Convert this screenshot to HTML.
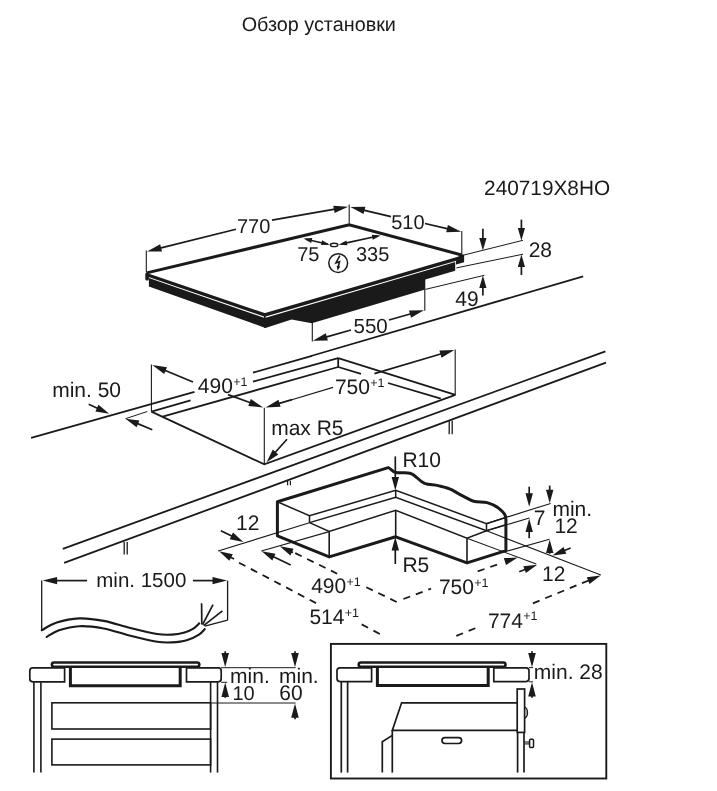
<!DOCTYPE html>
<html><head><meta charset="utf-8"><title>Обзор установки</title>
<style>
html,body{margin:0;padding:0;background:#fff;}
body{width:717px;height:791px;overflow:hidden;font-family:"Liberation Sans",sans-serif;}
svg{display:block;will-change:transform;}
svg text{font-family:"Liberation Sans",sans-serif;text-rendering:geometricPrecision;}
</style></head><body>
<svg width="717" height="791" viewBox="0 0 717 791" fill="none" stroke="#1a1a1a">
<text x="241.7" y="30.6" font-size="19.8" text-anchor="start" stroke="none" fill="#1a1a1a">Обзор установки</text>
<text x="484.1" y="195.1" font-size="20.8" text-anchor="start" stroke="none" fill="#1a1a1a">240719X8HO</text>
<polygon points="148.9,278.1 264.8,317.9 264.8,327.7 148.9,286.4" stroke-width="0" fill="#1a1a1a" stroke-linejoin="miter"/>
<polygon points="264.8,317.9 455.2,261.9 455.2,270.7 425.3,279.4 425.3,289.5 311.8,323.2 291.6,319.6 265.4,327.9 264.0,327.4" stroke-width="0" fill="#1a1a1a" stroke-linejoin="miter"/>
<line x1="264.8" y1="314.8" x2="264.8" y2="327.6" stroke-width="1.6" stroke-linecap="butt"/>
<polyline points="146.8,272.9 349.2,224.7 461.6,255.0" stroke-width="3.0" fill="none" stroke-linejoin="miter"/>
<polyline points="147.0,274.7 264.8,314.9 462.6,257.1" stroke-width="3.3" fill="none" stroke-linejoin="miter"/>
<polygon points="460.0,254.6 464.1,254.6 464.1,262.3 456.0,264.4 456.0,261.0" stroke-width="0" fill="#1a1a1a" stroke-linejoin="miter"/>
<rect x="145.3" y="272.4" width="3.6" height="8.2" rx="1.6" ry="1.6" fill="#1a1a1a" stroke="none"/>
<line x1="146.3" y1="250.5" x2="146.3" y2="272.5" stroke-width="1.1" stroke-linecap="butt"/>
<line x1="349.2" y1="204.5" x2="349.2" y2="223.5" stroke-width="1.1" stroke-linecap="butt"/>
<line x1="236.0" y1="229.2" x2="160.1" y2="248.1" stroke-width="1.7" stroke-linecap="butt"/>
<polygon points="147.0,251.4 160.2,244.3 162.0,251.5" fill="#1a1a1a" stroke="none"/>
<line x1="272.0" y1="220.2" x2="334.9" y2="209.1" stroke-width="1.7" stroke-linecap="butt"/>
<polygon points="348.2,206.8 334.6,213.0 333.3,205.7" fill="#1a1a1a" stroke="none"/>
<text x="237.0" y="233.2" font-size="20" text-anchor="start" stroke="none" fill="#1a1a1a">770</text>
<line x1="391.0" y1="216.7" x2="363.5" y2="210.1" stroke-width="1.7" stroke-linecap="butt"/>
<polygon points="350.4,207.0 365.4,206.8 363.6,214.0" fill="#1a1a1a" stroke="none"/>
<line x1="425.0" y1="223.5" x2="448.0" y2="228.8" stroke-width="1.7" stroke-linecap="butt"/>
<polygon points="461.2,231.8 446.2,232.2 447.9,225.0" fill="#1a1a1a" stroke="none"/>
<line x1="461.8" y1="231.0" x2="461.8" y2="255.0" stroke-width="1.1" stroke-linecap="butt"/>
<text x="391.2" y="229.0" font-size="20" text-anchor="start" stroke="none" fill="#1a1a1a">510</text>
<line x1="306.0" y1="239.2" x2="328.0" y2="244.2" stroke-width="1.6" stroke-linecap="butt"/>
<polygon points="303.5,238.5 312.3,238.1 311.2,242.9" fill="#1a1a1a" stroke="none"/>
<polygon points="329.8,244.7 321.0,245.1 322.1,240.3" fill="#1a1a1a" stroke="none"/>
<line x1="342.0" y1="243.9" x2="378.0" y2="236.0" stroke-width="1.6" stroke-linecap="butt"/>
<polygon points="338.6,244.7 346.4,240.4 347.4,245.3" fill="#1a1a1a" stroke="none"/>
<polygon points="380.6,235.4 372.8,239.7 371.8,234.8" fill="#1a1a1a" stroke="none"/>
<ellipse cx="334.1" cy="244.9" rx="3.7" ry="1.7" stroke-width="1.4" fill="#fff"/>
<text x="297.2" y="260.8" font-size="20" text-anchor="start" stroke="none" fill="#1a1a1a">75</text>
<text x="356.0" y="260.8" font-size="20" text-anchor="start" stroke="none" fill="#1a1a1a">335</text>
<circle cx="338.2" cy="263.1" r="9.4" stroke-width="1.5" fill="none"/>
<path d="M339.8 255.6 L336.0 262.9 L339.5 261.7 L338.0 268.0" stroke-width="1.6" fill="none" stroke-linejoin="miter"/>
<polygon points="337.6,270.6 336.6,265.7 340.3,266.4" fill="#1a1a1a" stroke="none"/>
<line x1="464.0" y1="255.0" x2="523.0" y2="240.3" stroke-width="1.0" stroke-linecap="butt"/>
<line x1="456.4" y1="267.9" x2="523.0" y2="254.2" stroke-width="1.0" stroke-linecap="butt"/>
<line x1="425.3" y1="289.4" x2="484.4" y2="275.3" stroke-width="1.0" stroke-linecap="butt"/>
<line x1="482.9" y1="228.8" x2="482.9" y2="238.9" stroke-width="1.7" stroke-linecap="butt"/>
<polygon points="482.9,250.4 479.3,237.9 486.5,237.9" fill="#1a1a1a" stroke="none"/>
<line x1="521.4" y1="219.6" x2="521.4" y2="228.9" stroke-width="1.7" stroke-linecap="butt"/>
<polygon points="521.4,240.4 517.8,227.9 525.0,227.9" fill="#1a1a1a" stroke="none"/>
<line x1="521.4" y1="275.0" x2="521.4" y2="266.1" stroke-width="1.7" stroke-linecap="butt"/>
<polygon points="521.4,254.6 525.0,267.1 517.8,267.1" fill="#1a1a1a" stroke="none"/>
<line x1="482.9" y1="295.6" x2="482.9" y2="286.9" stroke-width="1.7" stroke-linecap="butt"/>
<polygon points="482.9,275.4 486.5,287.9 479.3,287.9" fill="#1a1a1a" stroke="none"/>
<text x="528.7" y="257.2" font-size="21" text-anchor="start" stroke="none" fill="#1a1a1a">28</text>
<text x="455.3" y="306.0" font-size="21" text-anchor="start" stroke="none" fill="#1a1a1a">49</text>
<line x1="312.3" y1="322.8" x2="312.3" y2="341.6" stroke-width="1.1" stroke-linecap="butt"/>
<line x1="424.8" y1="289.2" x2="424.8" y2="310.8" stroke-width="1.1" stroke-linecap="butt"/>
<line x1="351.0" y1="330.0" x2="325.9" y2="337.1" stroke-width="1.7" stroke-linecap="butt"/>
<polygon points="312.9,340.8 325.8,333.3 327.9,340.4" fill="#1a1a1a" stroke="none"/>
<line x1="389.0" y1="320.0" x2="411.0" y2="313.8" stroke-width="1.7" stroke-linecap="butt"/>
<polygon points="424.0,310.2 411.0,317.7 409.0,310.5" fill="#1a1a1a" stroke="none"/>
<text x="353.5" y="333.3" font-size="20.5" text-anchor="start" stroke="none" fill="#1a1a1a">550</text>
<line x1="31.1" y1="437.8" x2="194.5" y2="391.8" stroke-width="1.8" stroke-linecap="butt"/>
<line x1="253.0" y1="372.6" x2="312.0" y2="355.8" stroke-width="1.8" stroke-linecap="butt"/>
<line x1="311.0" y1="356.0" x2="583.2" y2="276.3" stroke-width="1.8" stroke-linecap="butt"/>
<line x1="62.8" y1="548.8" x2="605.4" y2="351.4" stroke-width="1.8" stroke-linecap="butt"/>
<line x1="64.1" y1="562.9" x2="606.0" y2="362.6" stroke-width="1.8" stroke-linecap="butt"/>
<line x1="124.2" y1="542.0" x2="124.2" y2="554.5" stroke-width="1.3" stroke-linecap="butt"/>
<line x1="127.2" y1="542.0" x2="127.2" y2="554.5" stroke-width="1.3" stroke-linecap="butt"/>
<line x1="287.6" y1="480.8" x2="287.6" y2="485.2" stroke-width="1.2" stroke-linecap="butt"/>
<line x1="290.4" y1="480.8" x2="290.4" y2="485.2" stroke-width="1.2" stroke-linecap="butt"/>
<line x1="449.2" y1="420.6" x2="449.2" y2="434.2" stroke-width="1.3" stroke-linecap="butt"/>
<line x1="452.2" y1="420.6" x2="452.2" y2="434.2" stroke-width="1.3" stroke-linecap="butt"/>
<line x1="151.4" y1="411.6" x2="190.6" y2="400.3" stroke-width="1.8" stroke-linecap="butt"/>
<line x1="253.0" y1="381.6" x2="338.2" y2="358.2" stroke-width="1.8" stroke-linecap="butt"/>
<line x1="162.6" y1="416.6" x2="338.2" y2="367.0" stroke-width="1.8" stroke-linecap="butt"/>
<line x1="338.2" y1="358.0" x2="338.2" y2="367.2" stroke-width="1.8" stroke-linecap="butt"/>
<line x1="338.2" y1="358.2" x2="455.4" y2="394.8" stroke-width="1.8" stroke-linecap="butt"/>
<line x1="338.2" y1="367.0" x2="361.0" y2="373.8" stroke-width="1.8" stroke-linecap="butt"/>
<line x1="388.0" y1="383.0" x2="440.8" y2="398.6" stroke-width="1.8" stroke-linecap="butt"/>
<polyline points="151.4,411.6 264.3,464.3 455.4,394.8" stroke-width="1.8" fill="none" stroke-linejoin="miter"/>
<line x1="151.4" y1="364.6" x2="151.4" y2="411.6" stroke-width="1.1" stroke-linecap="butt"/>
<line x1="264.3" y1="407.8" x2="264.3" y2="464.3" stroke-width="1.1" stroke-linecap="butt"/>
<line x1="455.2" y1="349.6" x2="455.2" y2="394.8" stroke-width="1.1" stroke-linecap="butt"/>
<line x1="193.0" y1="382.0" x2="164.7" y2="370.2" stroke-width="1.7" stroke-linecap="butt"/>
<polygon points="152.2,365.0 167.0,367.2 164.2,374.0" fill="#1a1a1a" stroke="none"/>
<line x1="228.0" y1="394.6" x2="250.5" y2="402.8" stroke-width="1.7" stroke-linecap="butt"/>
<polygon points="263.2,407.4 248.3,405.9 250.8,399.0" fill="#1a1a1a" stroke="none"/>
<text x="197.8" y="392.9" font-size="21" text-anchor="start" stroke="none" fill="#1a1a1a">490<tspan font-size="12.5" dy="-7.2" dx="0.3">+1</tspan></text>
<line x1="292.0" y1="399.6" x2="278.5" y2="403.6" stroke-width="1.7" stroke-linecap="butt"/>
<polygon points="265.6,407.4 278.5,399.7 280.6,406.8" fill="#1a1a1a" stroke="none"/>
<line x1="291.0" y1="400.0" x2="333.0" y2="387.4" stroke-width="1.2" stroke-linecap="butt"/>
<line x1="374.4" y1="373.6" x2="441.5" y2="353.8" stroke-width="1.7" stroke-linecap="butt"/>
<polygon points="454.4,350.0 441.5,357.7 439.4,350.6" fill="#1a1a1a" stroke="none"/>
<text x="334.9" y="394.4" font-size="21" text-anchor="start" stroke="none" fill="#1a1a1a">750<tspan font-size="12.5" dy="-7.2" dx="0.3">+1</tspan></text>
<text x="271.2" y="435.2" font-size="21" text-anchor="start" stroke="none" fill="#1a1a1a">max R5</text>
<line x1="287.0" y1="439.2" x2="274.9" y2="452.8" stroke-width="1.7" stroke-linecap="butt"/>
<polygon points="266.6,462.2 272.8,449.6 278.3,454.6" fill="#1a1a1a" stroke="none"/>
<text x="52.2" y="397.0" font-size="21" text-anchor="start" stroke="none" fill="#1a1a1a">min. 50</text>
<line x1="88.7" y1="404.3" x2="97.9" y2="408.5" stroke-width="1.7" stroke-linecap="butt"/>
<polygon points="109.2,413.8 95.4,411.5 98.5,404.8" fill="#1a1a1a" stroke="none"/>
<line x1="152.3" y1="429.7" x2="137.1" y2="423.4" stroke-width="1.7" stroke-linecap="butt"/>
<polygon points="125.5,418.7 139.4,420.4 136.6,427.2" fill="#1a1a1a" stroke="none"/>
<line x1="125.5" y1="418.7" x2="147.3" y2="411.5" stroke-width="1.0" stroke-linecap="butt"/>
<path d="M277.4 535.9 L277.4 501.8 L388.3 467.6 C391 468.5 392.5 472.0 396.0 472.6 C401 473.4 405 472.0 410.0 473.2 C416 474.8 418.5 481.0 424.6 483.4 C429 485.0 433.5 484.6 438.0 485.6 C443 486.8 447.5 487.6 451.4 489.6 C456 492.0 459 494.2 462.6 495.8 C467 497.8 470 500.6 474.6 501.4 C479 502.2 483 501.6 487.1 502.6 C491.5 503.8 495.5 505.6 498.6 508.2 C501.5 510.6 503.8 512.4 505.0 515.0 C506 517.0 505.9 518.6 505.9 520.5 L505.9 550.6 L467.0 562.9 L395.7 536.8 L329.2 556.9 Z" stroke-width="3.0" fill="none" stroke-linejoin="round"/>
<polyline points="277.4,501.8 309.5,515.8 395.7,490.2 486.5,523.6 505.0,517.8" stroke-width="1.5" fill="none" stroke-linejoin="miter"/>
<polyline points="309.5,515.8 309.5,522.6" stroke-width="1.5" fill="none" stroke-linejoin="miter"/>
<polyline points="309.5,522.6 395.7,497.3 486.5,530.8 505.9,524.8" stroke-width="1.5" fill="none" stroke-linejoin="miter"/>
<line x1="486.5" y1="523.6" x2="486.5" y2="530.8" stroke-width="1.5" stroke-linecap="butt"/>
<polyline points="309.5,522.6 329.2,531.5 395.7,510.3 467.0,538.2 486.5,530.8" stroke-width="1.5" fill="none" stroke-linejoin="miter"/>
<line x1="329.2" y1="531.5" x2="329.2" y2="556.6" stroke-width="1.6" stroke-linecap="butt"/>
<line x1="467.0" y1="538.2" x2="467.0" y2="562.6" stroke-width="1.6" stroke-linecap="butt"/>
<line x1="395.7" y1="490.2" x2="395.7" y2="497.3" stroke-width="1.5" stroke-linecap="butt"/>
<line x1="395.7" y1="510.3" x2="395.7" y2="536.6" stroke-width="1.6" stroke-linecap="butt"/>
<line x1="395.3" y1="456.4" x2="395.3" y2="477.9" stroke-width="1.7" stroke-linecap="butt"/>
<polygon points="395.3,490.4 391.6,476.9 399.0,476.9" fill="#1a1a1a" stroke="none"/>
<line x1="395.3" y1="564.0" x2="395.3" y2="549.5" stroke-width="1.7" stroke-linecap="butt"/>
<polygon points="395.3,537.0 399.0,550.5 391.6,550.5" fill="#1a1a1a" stroke="none"/>
<text x="402.4" y="466.8" font-size="21" text-anchor="start" stroke="none" fill="#1a1a1a">R10</text>
<text x="402.4" y="572.2" font-size="21" text-anchor="start" stroke="none" fill="#1a1a1a">R5</text>
<line x1="218.1" y1="551.0" x2="309.5" y2="522.8" stroke-width="1.1" stroke-linecap="butt"/>
<line x1="261.4" y1="551.0" x2="329.2" y2="531.6" stroke-width="1.1" stroke-linecap="butt"/>
<line x1="220.9" y1="530.7" x2="232.2" y2="536.3" stroke-width="1.7" stroke-linecap="butt"/>
<polygon points="243.4,541.9 229.7,539.2 233.0,532.6" fill="#1a1a1a" stroke="none"/>
<text x="236.1" y="530.1" font-size="21" text-anchor="start" stroke="none" fill="#1a1a1a">12</text>
<line x1="234.0" y1="559.0" x2="230.2" y2="557.0" stroke-width="1.7" stroke-linecap="butt"/>
<polygon points="219.1,551.2 232.8,554.2 229.3,560.7" fill="#1a1a1a" stroke="none"/>
<line x1="239.0" y1="562.7" x2="316.2" y2="603.2" stroke-width="1.8" stroke-dasharray="7.2 6.1" stroke-linecap="butt"/>
<line x1="361.7" y1="624.4" x2="380.0" y2="634.1" stroke-width="1.8" stroke-dasharray="7.2 6.1" stroke-linecap="butt"/>
<line x1="290.7" y1="565.0" x2="273.0" y2="556.6" stroke-width="1.7" stroke-linecap="butt"/>
<polygon points="261.7,551.3 275.5,553.7 272.3,560.4" fill="#1a1a1a" stroke="none"/>
<line x1="293.0" y1="552.6" x2="291.1" y2="551.7" stroke-width="1.7" stroke-linecap="butt"/>
<polygon points="279.8,546.3 293.6,548.8 290.4,555.5" fill="#1a1a1a" stroke="none"/>
<line x1="295.2" y1="553.1" x2="337.2" y2="573.7" stroke-width="1.8" stroke-dasharray="7.2 6.1" stroke-linecap="butt"/>
<line x1="366.3" y1="587.2" x2="397.2" y2="602.2" stroke-width="1.8" stroke-dasharray="7.2 6.1" stroke-linecap="butt"/>
<text x="311.2" y="593.4" font-size="21" text-anchor="start" stroke="none" fill="#1a1a1a">490<tspan font-size="12.5" dy="-7.2" dx="0.3">+1</tspan></text>
<text x="309.4" y="624.1" font-size="21" text-anchor="start" stroke="none" fill="#1a1a1a">514<tspan font-size="12.5" dy="-7.2" dx="0.3">+1</tspan></text>
<line x1="403.4" y1="599.0" x2="431.0" y2="588.7" stroke-width="1.8" stroke-dasharray="7.2 6.1" stroke-linecap="butt"/>
<line x1="477.7" y1="571.4" x2="502.0" y2="562.9" stroke-width="1.8" stroke-dasharray="7.2 6.1" stroke-linecap="butt"/>
<polygon points="517.8,557.6 506.0,565.1 503.8,558.1" fill="#1a1a1a" stroke="none"/>
<text x="438.9" y="594.4" font-size="21" text-anchor="start" stroke="none" fill="#1a1a1a">750<tspan font-size="12.5" dy="-7.2" dx="0.3">+1</tspan></text>
<line x1="456.3" y1="635.9" x2="477.0" y2="627.6" stroke-width="1.8" stroke-dasharray="7.2 6.1" stroke-linecap="butt"/>
<line x1="532.9" y1="603.3" x2="582.2" y2="583.1" stroke-width="1.8" stroke-dasharray="7.2 6.1" stroke-linecap="butt"/>
<polygon points="600.7,575.6 589.5,584.0 586.8,577.2" fill="#1a1a1a" stroke="none"/>
<line x1="582.0" y1="583.2" x2="590.0" y2="580.0" stroke-width="1.8" stroke-linecap="butt"/>
<text x="487.9" y="627.6" font-size="21" text-anchor="start" stroke="none" fill="#1a1a1a">774<tspan font-size="12.5" dy="-7.2" dx="0.3">+1</tspan></text>
<line x1="486.5" y1="523.6" x2="550.6" y2="503.4" stroke-width="1.1" stroke-linecap="butt"/>
<line x1="486.5" y1="530.8" x2="529.4" y2="518.0" stroke-width="1.1" stroke-linecap="butt"/>
<line x1="505.9" y1="551.4" x2="549.5" y2="539.2" stroke-width="1.1" stroke-linecap="butt"/>
<line x1="467.0" y1="538.2" x2="536.2" y2="564.0" stroke-width="1.1" stroke-linecap="butt"/>
<line x1="486.5" y1="530.8" x2="600.8" y2="575.0" stroke-width="1.1" stroke-linecap="butt"/>
<line x1="529.2" y1="486.7" x2="529.2" y2="494.3" stroke-width="1.7" stroke-linecap="butt"/>
<polygon points="529.2,506.8 525.5,493.3 532.9,493.3" fill="#1a1a1a" stroke="none"/>
<line x1="549.7" y1="485.6" x2="549.7" y2="490.7" stroke-width="1.7" stroke-linecap="butt"/>
<polygon points="549.7,503.2 546.0,489.7 553.4,489.7" fill="#1a1a1a" stroke="none"/>
<line x1="529.2" y1="538.2" x2="529.2" y2="531.1" stroke-width="1.7" stroke-linecap="butt"/>
<polygon points="529.2,518.6 532.9,532.1 525.5,532.1" fill="#1a1a1a" stroke="none"/>
<line x1="549.7" y1="553.8" x2="549.7" y2="552.1" stroke-width="1.7" stroke-linecap="butt"/>
<polygon points="549.7,539.6 553.4,553.1 546.0,553.1" fill="#1a1a1a" stroke="none"/>
<line x1="570.6" y1="548.0" x2="564.0" y2="550.7" stroke-width="1.7" stroke-linecap="butt"/>
<polygon points="552.4,555.4 563.5,546.9 566.3,553.7" fill="#1a1a1a" stroke="none"/>
<line x1="519.2" y1="571.7" x2="525.5" y2="569.3" stroke-width="1.7" stroke-linecap="butt"/>
<polygon points="537.2,564.8 525.9,573.1 523.3,566.2" fill="#1a1a1a" stroke="none"/>
<text x="533.8" y="524.7" font-size="21" text-anchor="start" stroke="none" fill="#1a1a1a">7</text>
<text x="552.4" y="515.8" font-size="21" text-anchor="start" stroke="none" fill="#1a1a1a">min.</text>
<text x="554.4" y="532.5" font-size="21" text-anchor="start" stroke="none" fill="#1a1a1a">12</text>
<text x="542.1" y="580.5" font-size="21" text-anchor="start" stroke="none" fill="#1a1a1a">12</text>
<line x1="41.7" y1="580.6" x2="41.7" y2="630.2" stroke-width="1.3" stroke-linecap="butt"/>
<line x1="227.6" y1="580.6" x2="227.6" y2="620.2" stroke-width="1.3" stroke-linecap="butt"/>
<line x1="227.6" y1="620.2" x2="204.8" y2="626.2" stroke-width="1.3" stroke-linecap="butt"/>
<line x1="87.0" y1="580.6" x2="56.1" y2="580.6" stroke-width="1.7" stroke-linecap="butt"/>
<polygon points="42.6,580.6 57.1,576.9 57.1,584.3" fill="#1a1a1a" stroke="none"/>
<line x1="193.0" y1="580.6" x2="213.5" y2="580.6" stroke-width="1.7" stroke-linecap="butt"/>
<polygon points="227.0,580.6 212.5,584.3 212.5,576.9" fill="#1a1a1a" stroke="none"/>
<text x="96.3" y="587.3" font-size="20.5" text-anchor="start" stroke="none" fill="#1a1a1a">min. 1500</text>
<path d="M41.8 630.2 C44.3 628.9 50.6 624.6 56.8 622.6 C63.0 620.6 71.3 618.7 79.1 618.4 C86.9 618.1 95.2 619.3 103.7 620.9 C112.2 622.5 121.5 625.8 130.4 628.0 C139.3 630.2 150.3 632.9 157.2 634.0 C164.1 635.1 167.4 634.9 172.0 634.6 C176.6 634.3 180.9 633.4 184.5 632.4 C188.1 631.4 191.0 630.1 193.4 628.6 C195.8 627.1 198.2 624.3 199.2 623.4" stroke-width="2.1" fill="none" stroke-linecap="round"/>
<path d="M46.7 636.9 C48.8 635.8 53.6 632.1 59.0 630.3 C64.4 628.5 71.6 626.5 79.1 626.2 C86.5 625.9 95.2 626.9 103.7 628.5 C112.2 630.1 121.5 633.6 130.4 635.8 C139.3 638.0 150.3 640.7 157.2 641.8 C164.1 642.9 167.1 642.7 172.0 642.4 C176.9 642.1 182.2 641.5 186.7 640.2 C191.2 638.9 196.0 636.5 199.0 634.6 C202.0 632.8 203.8 630.0 204.8 629.1" stroke-width="2.1" fill="none" stroke-linecap="round"/>
<line x1="201.8" y1="624.6" x2="201.6" y2="603.2" stroke-width="1.7" stroke-linecap="butt"/>
<line x1="202.6" y1="624.6" x2="213.0" y2="604.6" stroke-width="1.7" stroke-linecap="butt"/>
<line x1="203.6" y1="625.6" x2="222.4" y2="610.8" stroke-width="1.7" stroke-linecap="butt"/>
<polyline points="70.4,667.0 70.4,685.8 180.2,685.8 180.2,667.0" stroke-width="3.0" fill="none" stroke-linejoin="miter"/>
<rect x="51.9" y="662.5" width="147.4" height="4.3" rx="2.1" ry="2.1" stroke-width="2.6" fill="#fff"/>
<path d="M64.6 667.8 L32.8 667.8 Q29.8 667.8 29.8 670.8 L29.8 678.8 Q29.8 681.8 32.8 681.8 L64.6 681.8 Z" stroke-width="1.7" fill="#fff" />
<path d="M186.5 667.8 L218.2 667.8 Q221.2 667.8 221.2 670.8 L221.2 678.8 Q221.2 681.8 218.2 681.8 L186.5 681.8 Z" stroke-width="1.7" fill="#fff" />
<line x1="33.9" y1="682.2" x2="33.9" y2="772.6" stroke-width="1.6" stroke-linecap="butt"/>
<line x1="40.9" y1="682.2" x2="40.9" y2="772.6" stroke-width="1.6" stroke-linecap="butt"/>
<line x1="210.6" y1="682.2" x2="210.6" y2="772.6" stroke-width="1.6" stroke-linecap="butt"/>
<line x1="217.5" y1="682.2" x2="217.5" y2="772.6" stroke-width="1.6" stroke-linecap="butt"/>
<rect x="51.9" y="702.8" width="158.7" height="26.2" stroke-width="1.6" fill="none"/>
<rect x="51.9" y="739.1" width="158.7" height="25.8" stroke-width="1.6" fill="none"/>
<line x1="221.0" y1="667.7" x2="295.6" y2="667.7" stroke-width="1.0" stroke-linecap="butt"/>
<line x1="210.3" y1="703.0" x2="295.6" y2="703.0" stroke-width="1.0" stroke-linecap="butt"/>
<line x1="221.2" y1="682.3" x2="227.2" y2="682.3" stroke-width="1.0" stroke-linecap="butt"/>
<line x1="225.2" y1="651.3" x2="225.2" y2="653.9" stroke-width="1.7" stroke-linecap="butt"/>
<polygon points="225.2,667.2 221.4,652.9 229.0,652.9" fill="#1a1a1a" stroke="none"/>
<line x1="225.2" y1="697.8" x2="225.2" y2="695.9" stroke-width="1.7" stroke-linecap="butt"/>
<polygon points="225.2,682.6 229.0,696.9 221.4,696.9" fill="#1a1a1a" stroke="none"/>
<line x1="295.0" y1="651.3" x2="295.0" y2="653.9" stroke-width="1.7" stroke-linecap="butt"/>
<polygon points="295.0,667.2 291.2,652.9 298.8,652.9" fill="#1a1a1a" stroke="none"/>
<line x1="295.0" y1="719.2" x2="295.0" y2="716.7" stroke-width="1.7" stroke-linecap="butt"/>
<polygon points="295.0,703.4 298.8,717.7 291.2,717.7" fill="#1a1a1a" stroke="none"/>
<text x="230.1" y="683.2" font-size="21" text-anchor="start" stroke="none" fill="#1a1a1a">min.</text>
<text x="232.5" y="700.3" font-size="20" text-anchor="start" stroke="none" fill="#1a1a1a">10</text>
<text x="279.0" y="683.2" font-size="21" text-anchor="start" stroke="none" fill="#1a1a1a">min.</text>
<text x="279.3" y="700.3" font-size="21" text-anchor="start" stroke="none" fill="#1a1a1a">60</text>
<rect x="330.9" y="643.9" width="275.4" height="134.6" stroke-width="1.9" fill="none"/>
<polyline points="377.4,667.0 377.4,685.6 488.2,685.6 488.2,667.0" stroke-width="3.0" fill="none" stroke-linejoin="miter"/>
<rect x="358.7" y="662.5" width="146.8" height="4.3" rx="2.1" ry="2.1" stroke-width="2.6" fill="#fff"/>
<path d="M371.6 667.8 L340.0 667.8 Q337.0 667.8 337.0 670.8 L337.0 678.6 Q337.0 681.6 340.0 681.6 L371.6 681.6 Z" stroke-width="1.7" fill="#fff" />
<path d="M493.8 667.8 L526.0 667.8 Q529.0 667.8 529.0 670.8 L529.0 678.6 Q529.0 681.6 526.0 681.6 L493.8 681.6 Z" stroke-width="1.7" fill="#fff" />
<line x1="341.3" y1="681.6" x2="341.3" y2="772.6" stroke-width="1.7" stroke-linecap="butt"/>
<line x1="347.6" y1="681.6" x2="347.6" y2="772.6" stroke-width="1.7" stroke-linecap="butt"/>
<polyline points="517.2,702.8 401.6,702.8 392.3,730.4 517.2,730.4" stroke-width="1.7" fill="none" stroke-linejoin="miter"/>
<line x1="392.3" y1="730.4" x2="392.3" y2="772.6" stroke-width="1.7" stroke-linecap="butt"/>
<polyline points="392.3,735.4 382.3,741.7 382.3,772.6" stroke-width="1.7" fill="none" stroke-linejoin="miter"/>
<rect x="442.0" y="737.6" width="19.6" height="5.9" rx="2.95" ry="2.95" stroke-width="1.7" fill="none"/>
<rect x="517.2" y="689.0" width="7.4" height="43.4" stroke-width="1.7" fill="#fff"/>
<line x1="517.6" y1="732.4" x2="517.6" y2="772.6" stroke-width="1.7" stroke-linecap="butt"/>
<line x1="524.0" y1="732.4" x2="524.0" y2="772.6" stroke-width="1.7" stroke-linecap="butt"/>
<path d="M524.4 707.2 A3.0 5.4 0 0 1 524.4 718.0" stroke-width="1.5" fill="none" />
<line x1="524.4" y1="742.0" x2="529.6" y2="742.0" stroke-width="1.1" stroke-linecap="butt"/>
<line x1="524.4" y1="743.9" x2="529.6" y2="743.9" stroke-width="1.1" stroke-linecap="butt"/>
<rect x="529.6" y="739.3" width="3.9" height="8.2" rx="1.0" ry="1.0" stroke-width="1.5" fill="none"/>
<line x1="532.0" y1="651.3" x2="532.0" y2="653.9" stroke-width="1.7" stroke-linecap="butt"/>
<polygon points="532.0,667.2 528.2,652.9 535.8,652.9" fill="#1a1a1a" stroke="none"/>
<line x1="532.0" y1="697.8" x2="532.0" y2="695.5" stroke-width="1.7" stroke-linecap="butt"/>
<polygon points="532.0,682.2 535.8,696.5 528.2,696.5" fill="#1a1a1a" stroke="none"/>
<line x1="529.0" y1="667.6" x2="533.0" y2="667.6" stroke-width="1.0" stroke-linecap="butt"/>
<line x1="529.0" y1="681.8" x2="533.0" y2="681.8" stroke-width="1.0" stroke-linecap="butt"/>
<text x="533.8" y="679.0" font-size="21" text-anchor="start" stroke="none" fill="#1a1a1a">min. 28</text>
</svg>
</body></html>
